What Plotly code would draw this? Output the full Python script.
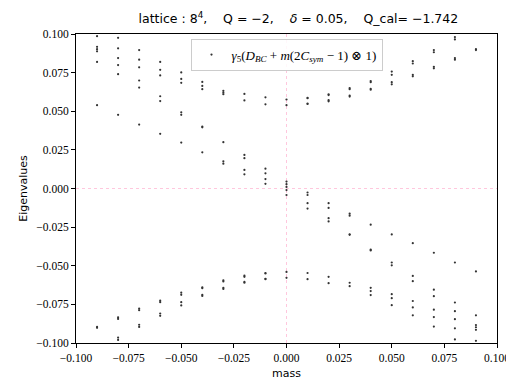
import plotly.graph_objects as go

masses = [-0.09, -0.08, -0.07, -0.06, -0.05, -0.04, -0.03, -0.02, -0.01, 0.0,
          0.01, 0.02, 0.03, 0.04, 0.05, 0.06, 0.07, 0.08, 0.09]

ev_m090 = [0.0986, 0.0917, 0.0902, 0.0888, 0.0819, 0.0539, -0.0896, -0.0902]
ev_m080 = [0.0975, 0.0907, 0.0844, 0.0799, 0.0740, 0.0477, -0.0834, -0.0844, -0.0965, -0.0980]
ev_m070 = [0.0896, 0.0834, 0.0784, 0.0699, 0.0653, 0.0414, -0.0778, -0.0788, -0.0882, -0.0896]
ev_m060 = [0.0819, 0.0768, 0.0732, 0.0597, 0.0566, 0.0354, -0.0726, -0.0736, -0.0809, -0.0824]
ev_m050 = [0.0751, 0.0709, 0.0684, 0.0493, 0.0477, 0.0297, -0.0674, -0.0688, -0.0736, -0.0757]
ev_m040 = [0.0690, 0.0664, 0.0643, 0.0401, 0.0396, 0.0234, -0.0639, -0.0645, -0.0688, -0.0695]
ev_m030 = [0.0632, 0.0620, 0.0610, 0.0300, 0.0176, 0.0161, -0.0595, -0.0602, -0.0643, -0.0650]
ev_m020 = [0.0612, 0.0570, 0.0217, 0.0196, 0.0120, 0.0092, -0.0564, -0.0572, -0.0605, -0.0610]
ev_m010 = [0.0590, 0.0545, 0.0128, 0.0098, 0.0061, 0.0030, -0.0547, -0.0550, -0.0584, -0.0587]
ev_p000 = [0.0576, 0.0539, 0.0045, 0.0028, 0.0010, -0.0010, -0.0042, -0.0540, -0.0578]
ev_p010 = [0.0587, 0.0584, 0.0550, 0.0547, -0.0026, -0.0042, -0.0095, -0.0130, -0.0547, -0.0587]
ev_p020 = [0.0610, 0.0605, 0.0572, 0.0564, -0.0095, -0.0126, -0.0192, -0.0213, -0.0572, -0.0613]
ev_p030 = [0.0650, 0.0643, 0.0602, 0.0595, -0.0163, -0.0176, -0.0296, -0.0300, -0.0610, -0.0632]
ev_p040 = [0.0695, 0.0688, 0.0645, 0.0639, -0.0234, -0.0396, -0.0401, -0.0643, -0.0664, -0.0690]
ev_p050 = [0.0757, 0.0736, 0.0688, 0.0674, -0.0297, -0.0479, -0.0497, -0.0684, -0.0710, -0.0755]
ev_p060 = [0.0824, 0.0809, 0.0736, 0.0726, -0.0354, -0.0566, -0.0600, -0.0728, -0.0770, -0.0821]
ev_p070 = [0.0896, 0.0882, 0.0788, 0.0778, -0.0416, -0.0655, -0.0697, -0.0784, -0.0832, -0.0894]
ev_p080 = [0.0980, 0.0965, 0.0844, 0.0834, -0.0479, -0.0738, -0.0794, -0.0846, -0.0905, -0.0977]
ev_p090 = [0.0902, 0.0896, -0.0537, -0.0821, -0.0884, -0.0898, -0.0915, -0.0986]

eigen_lists = [ev_m090, ev_m080, ev_m070, ev_m060, ev_m050, ev_m040, ev_m030, ev_m020, ev_m010,
               ev_p000, ev_p010, ev_p020, ev_p030, ev_p040, ev_p050, ev_p060, ev_p070, ev_p080, ev_p090]

tick_vals = [-0.1, -0.075, -0.05, -0.025, 0.0, 0.025, 0.05, 0.075, 0.1]

xs, ys = [], []
for m, evs in zip(masses, eigen_lists):
    for v in evs:
        xs.append(m)
        ys.append(v)

serif = "Liberation Serif, DejaVu Serif, serif"
sans = "DejaVu Sans, sans-serif"

fig = go.Figure()
fig.add_trace(go.Scatter(
    x=xs, y=ys, mode="markers",
    marker=dict(size=2.2, color="#333333"),
    name="<i>γ</i><sub>5</sub>(<i>D</i><sub><i>BC</i></sub> + <i>m</i>(2<i>C</i><sub><i>sym</i></sub> − 1) ⊗ 1)",
    showlegend=True,
    cliponaxis=True,
))

fig.add_shape(type="line", xref="x", yref="paper", x0=0, x1=0, y0=0, y1=1,
              line=dict(color="rgba(255,130,180,0.45)", width=1, dash="dot"), layer="below")
fig.add_shape(type="line", xref="paper", yref="y", x0=0, x1=1, y0=0, y1=0,
              line=dict(color="rgba(255,130,180,0.45)", width=1, dash="dot"), layer="below")

axis_common = dict(
    showgrid=False, zeroline=False, showline=True, linecolor="black", linewidth=1,
    mirror=True, ticks="outside", ticklen=4, tickcolor="black", tickwidth=1,
    tickvals=tick_vals, tickformat=".3f",
    tickfont=dict(family=serif, size=11.5, color="black"),
)

fig.update_layout(
    width=514, height=381,
    margin=dict(l=68, r=15, t=26, b=34),
    paper_bgcolor="white", plot_bgcolor="white",
    title=dict(
        text="lattice : 8<sup>4</sup>,    Q = −2,    <i>δ</i> = 0.05,    Q_cal= −1.742",
        x=0.565, xanchor="center", y=0.972, yanchor="middle",
        font=dict(family=sans, size=12.5, color="black"),
    ),
    xaxis=dict(range=[-0.1, 0.1], title=dict(text="mass", font=dict(family=sans, size=11, color="black"), standoff=6), **axis_common),
    yaxis=dict(range=[-0.1, 0.1], title=dict(text="Eigenvalues", font=dict(family=sans, size=11, color="black"), standoff=6), **axis_common),
    legend=dict(
        x=0.5, xanchor="center", y=0.985, yanchor="top",
        bgcolor="rgba(255,255,255,0.85)", bordercolor="#cccccc", borderwidth=1,
        font=dict(family=serif, size=13, color="black"),
        itemsizing="trace",
    ),
    showlegend=True,
)

fig.write_html("out.html")
